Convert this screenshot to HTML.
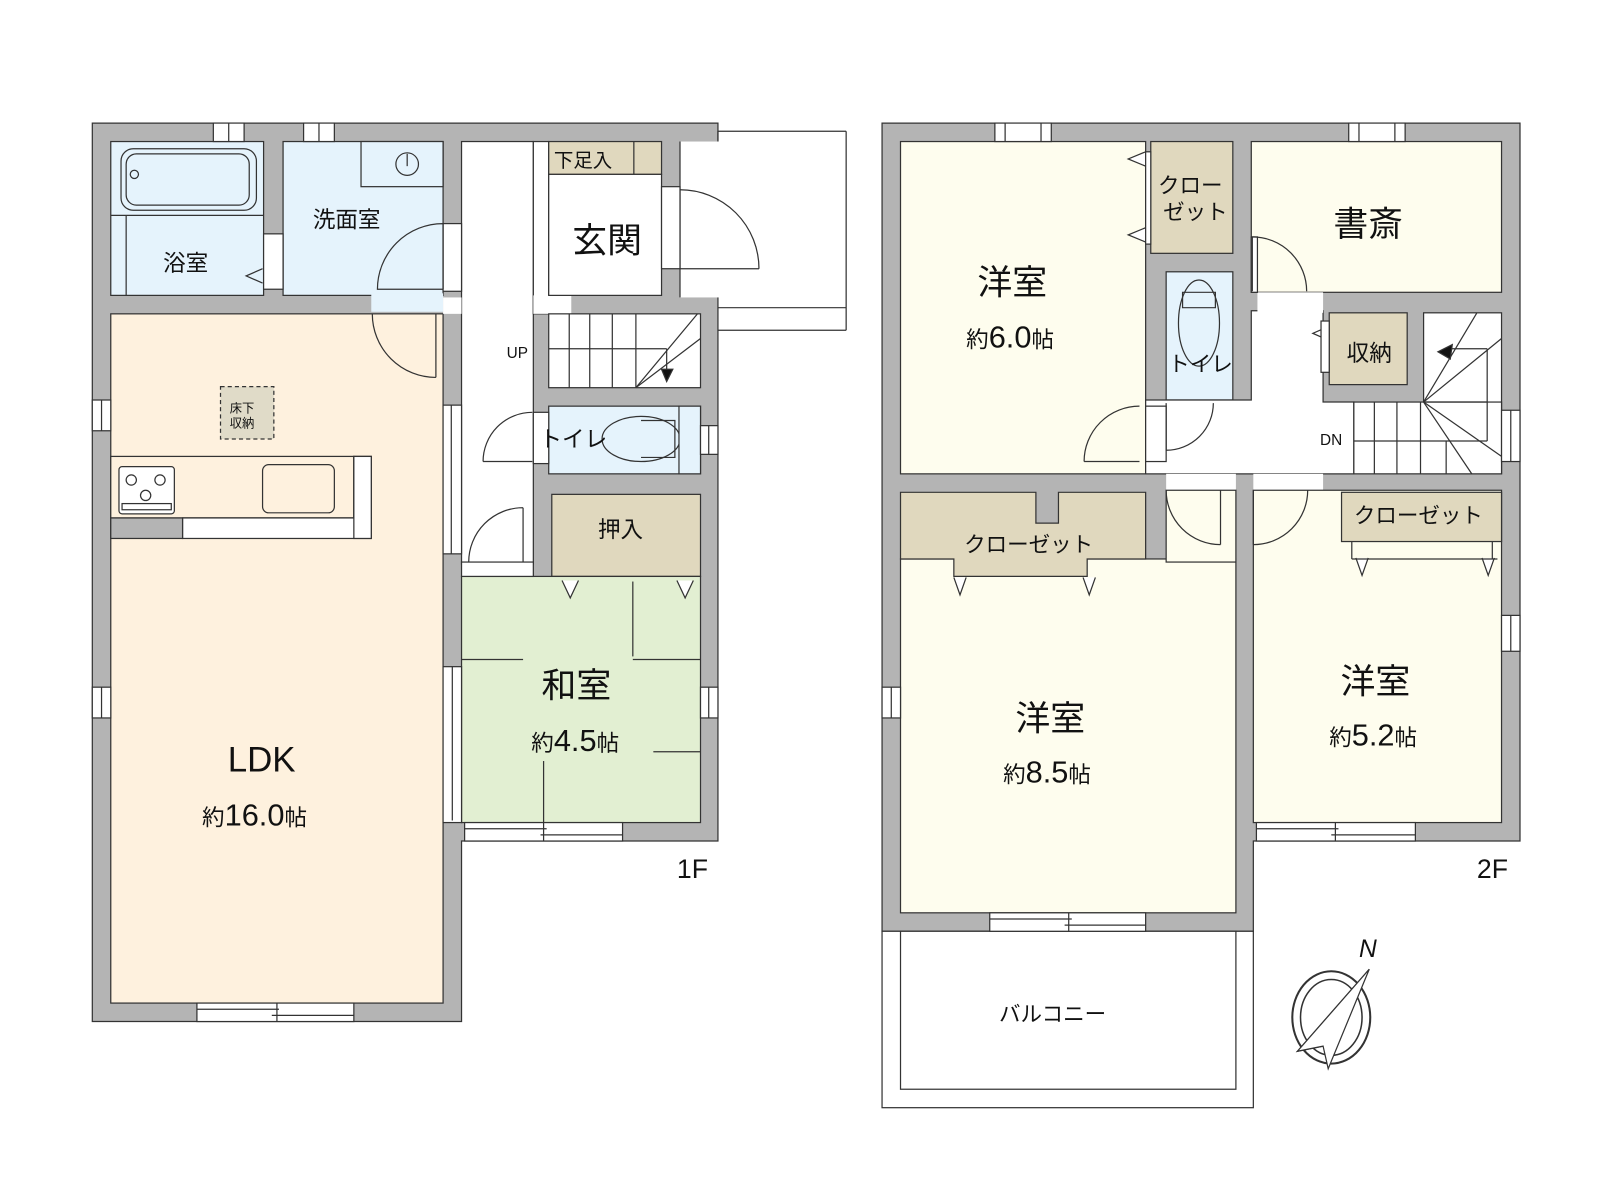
<!DOCTYPE html>
<html><head><meta charset="utf-8"><style>
html,body{margin:0;padding:0;background:#fff;}
svg{display:block}
text{font-family:"Liberation Sans","Noto Sans CJK JP",sans-serif;fill:#111}
</style></head><body>
<svg width="1600" height="1200" viewBox="0 0 1560 1170" xmlns="http://www.w3.org/2000/svg">
<g stroke="#333" stroke-width="1.2">
<!-- ===== 1F walls ===== -->
<path d="M90 120 H700 V820 H450 V996 H90 Z" fill="#b4b4b4"/>
<!-- porch -->
<rect x="663" y="138" width="40" height="152" fill="#fff" stroke="none"/>
<line x1="663" y1="138" x2="663" y2="290" />
<line x1="700" y1="128" x2="825" y2="128" fill="none"/>
<line x1="825" y1="128" x2="825" y2="322"/>
<line x1="700" y1="322" x2="825" y2="322"/>
<line x1="700" y1="300" x2="825" y2="300"/>
<line x1="700" y1="128" x2="700" y2="137"/>
<!-- rooms -->
<rect x="108" y="138" width="149" height="150" fill="#e5f3fc"/>
<rect x="276" y="138" width="156" height="150" fill="#e5f3fc"/>
<rect x="362" y="286" width="70" height="18" fill="#e5f3fc" stroke="none"/>
<rect x="352" y="138" width="80" height="44" fill="#e5f3fc"/>
<rect x="108" y="306" width="324" height="672" fill="#fef1de"/>
<rect x="450" y="138" width="70" height="412" fill="#fff"/>
<rect x="520" y="138" width="15" height="168" fill="#fff"/>
<rect x="520" y="288" width="37" height="18" fill="#fff" stroke="none"/>
<rect x="535" y="138" width="110" height="32" fill="#e0d8be"/>
<line x1="618" y1="138" x2="618" y2="170"/>
<rect x="535" y="170" width="110" height="118" fill="#fff"/>
<rect x="535" y="306" width="148" height="72" fill="#fff"/>
<rect x="535" y="396" width="148" height="66" fill="#e5f3fc"/>
<rect x="538" y="482" width="145" height="80" fill="#e0d8be"/>
<rect x="450" y="562" width="233" height="240" fill="#e2efd2"/>
<!-- bath details -->
<rect x="118" y="145" width="132" height="60" rx="12" fill="none"/>
<rect x="123" y="150" width="120" height="50" rx="10" fill="none"/>
<circle cx="131" cy="170" r="4" fill="none"/>
<line x1="108" y1="210" x2="257" y2="210"/>
<line x1="123" y1="210" x2="123" y2="288"/>
<path d="M256 262 L240 269 L256 276" fill="none"/>
<circle cx="397" cy="160" r="11" fill="none"/>
<line x1="397" y1="150" x2="397" y2="162"/>
<!-- kitchen -->
<rect x="108" y="445" width="237" height="60" fill="#fef1de"/>
<path d="M178 505 H362 V445 H345 V505" fill="#fff"/>
<rect x="178" y="505" width="184" height="20" fill="#fff"/>
<rect x="345" y="445" width="17" height="80" fill="#fff"/>
<rect x="108" y="505" width="70" height="20" fill="#b4b4b4"/>
<rect x="116" y="455" width="54" height="46" rx="3" fill="#fff"/>
<circle cx="128" cy="468" r="5" fill="none"/><circle cx="156" cy="468" r="5" fill="none"/><circle cx="142" cy="483" r="5" fill="none"/>
<rect x="119" y="491" width="48" height="6" fill="none"/>
<rect x="256" y="453" width="70" height="47" rx="6" fill="none"/>
<rect x="215" y="377" width="52" height="51" fill="#e0dbc8" stroke-dasharray="4 3"/>
<!-- stairs 1F -->
<g fill="none">
<line x1="555" y1="306" x2="555" y2="378"/><line x1="575" y1="306" x2="575" y2="378"/>
<line x1="597" y1="306" x2="597" y2="378"/><line x1="620" y1="306" x2="620" y2="378"/>
<line x1="535" y1="340" x2="650" y2="340"/><line x1="650" y1="340" x2="650" y2="370"/>
<line x1="620" y1="378" x2="680" y2="306"/><line x1="620" y1="378" x2="683" y2="330"/>
</g>
<path d="M645 360 L650 372 L656 360 Z" fill="#111"/>
<!-- toilet 1F -->
<ellipse cx="625" cy="428" rx="38" ry="22" fill="none"/>
<path d="M625 410 H658 V446 H625" fill="none"/>
<rect x="662" y="396" width="21" height="66" fill="#e5f3fc"/>
<!-- tatami -->
<g fill="none">
<line x1="617" y1="567" x2="617" y2="640"/>
<line x1="450" y1="643" x2="510" y2="643"/><line x1="617" y1="643" x2="683" y2="643"/>
<line x1="637" y1="733" x2="683" y2="733"/>
<line x1="530" y1="742" x2="530" y2="802"/>
</g>
<path d="M548 566 L556 583 L564 566" fill="#fff"/>
<path d="M660 566 L668 583 L676 566" fill="#fff"/>
<!-- 1F windows -->
<g fill="#fff">
<rect x="208" y="120" width="30" height="18"/><rect x="296" y="120" width="30" height="18"/>
<rect x="90" y="390" width="18" height="30"/><rect x="90" y="670" width="18" height="30"/>
<rect x="192" y="978" width="153" height="18"/><rect x="453" y="802" width="154" height="18"/>
<rect x="683" y="670" width="17" height="30"/><rect x="683" y="415" width="17" height="28"/>
<rect x="432" y="395" width="18" height="145"/><rect x="432" y="650" width="18" height="152"/>
<rect x="257" y="228" width="19" height="54"/><rect x="432" y="218" width="18" height="66"/>
<rect x="432" y="290" width="18" height="16" stroke="none"/>
<rect x="520" y="402" width="15" height="50"/>
<rect x="645" y="182" width="18" height="80"/>
<rect x="450" y="548" width="70" height="14"/>
</g>
<g fill="none">
<line x1="192" y1="984" x2="272" y2="984"/><line x1="265" y1="990" x2="345" y2="990"/><line x1="270" y1="978" x2="270" y2="996"/>
<line x1="453" y1="808" x2="533" y2="808"/><line x1="527" y1="814" x2="607" y2="814"/><line x1="530" y1="802" x2="530" y2="820"/>
<line x1="440" y1="395" x2="440" y2="540"/><line x1="441" y1="650" x2="441" y2="800"/>
<line x1="99" y1="390" x2="99" y2="420"/><line x1="99" y1="670" x2="99" y2="700"/>
<line x1="691" y1="670" x2="691" y2="700"/><line x1="691" y1="415" x2="691" y2="443"/>
<line x1="223" y1="120" x2="223" y2="138"/><line x1="311" y1="120" x2="311" y2="138"/>
</g>
<!-- 1F doors -->
<g fill="none">
<path d="M432 218 V282 H432 M432 218 A64 64 0 0 0 368 282 H432"/>
<path d="M425 306 V368 M425 368 A62 62 0 0 1 363 306"/>
<path d="M471 450 H519 M471 450 A48 48 0 0 1 519 402"/>
<path d="M510 495 V548 M457 548 A53 53 0 0 1 510 495"/>
<path d="M663 262 H740 M740 262 A77 77 0 0 0 663 185"/>
</g>

<!-- ===== 2F walls ===== -->
<path d="M860 120 H1482 V820 H1222 V908 H860 Z" fill="#b4b4b4"/>
<rect x="860" y="908" width="362" height="172" fill="#fff"/>
<rect x="878" y="908" width="327" height="154" fill="#fff"/>
<rect x="878" y="138" width="239" height="324" fill="#fefdee"/>
<rect x="1122" y="138" width="80" height="109" fill="#e0d8be"/>
<rect x="1220" y="138" width="244" height="147" fill="#fefdee"/>
<rect x="1137" y="265" width="65" height="125" fill="#e5f3fc"/>
<path d="M1117 390 H1220 V303 H1290 V392 H1320 V462 H1117 Z" fill="#fff"/>
<rect x="1226" y="285" width="64" height="20" fill="#fff" stroke="none"/>
<rect x="1296" y="305" width="76" height="70" fill="#e0d8be"/>
<rect x="1388" y="305" width="76" height="157" fill="#fff"/>
<rect x="1320" y="392" width="144" height="70" fill="#fff"/>
<rect x="1137" y="462" width="68" height="16" fill="#fff" stroke="none"/>
<rect x="1222" y="462" width="68" height="16" fill="#fff" stroke="none"/>
<rect x="878" y="545" width="327" height="345" fill="#fefdee"/>
<rect x="1137" y="478" width="68" height="70" fill="#fefdee"/>
<rect x="1222" y="478" width="242" height="324" fill="#fefdee"/>
<path d="M878 480 H1010 V510 H1032 V480 H1117 V545 H1060 V562 H930 V545 H878 Z" fill="#e0d8be"/>
<rect x="1308" y="480" width="156" height="48" fill="#e0d8be"/>
<!-- stairs 2F -->
<g fill="none">
<line x1="1340" y1="392" x2="1340" y2="462"/><line x1="1362" y1="392" x2="1362" y2="462"/>
<line x1="1385" y1="392" x2="1385" y2="462"/><line x1="1410" y1="430" x2="1410" y2="462"/>
<line x1="1320" y1="430" x2="1450" y2="430"/><line x1="1388" y1="392" x2="1450" y2="392"/>
<line x1="1450" y1="340" x2="1450" y2="430"/><line x1="1410" y1="340" x2="1450" y2="340"/>
<line x1="1388" y1="392" x2="1464" y2="330"/><line x1="1388" y1="392" x2="1464" y2="310" stroke-width="0"/>
<line x1="1388" y1="392" x2="1440" y2="305"/><line x1="1388" y1="392" x2="1464" y2="445"/>
<line x1="1388" y1="392" x2="1435" y2="462"/>
</g>
<path d="M1402 343 L1416 336 L1414 350 Z" fill="#111"/>
<!-- toilet 2F -->
<ellipse cx="1169" cy="315" rx="20" ry="42" fill="none"/>
<path d="M1153 285 V300 H1185 V285 Z" fill="none"/>
<!-- closet triangles -->
<g fill="#fff">
<path d="M1117 148 L1100 155 L1117 162"/><path d="M1117 222 L1100 229 L1117 236"/>
<path d="M1296 318 L1280 325 L1296 332"/>
<path d="M930 563 L936 580 L942 563"/><path d="M1056 563 L1062 580 L1068 563"/>
<path d="M1322 544 L1328 561 L1334 544"/><path d="M1445 544 L1451 561 L1457 544"/>
</g>
<line x1="1318" y1="528" x2="1318" y2="545"/><line x1="1455" y1="528" x2="1455" y2="545"/>
<line x1="1318" y1="545" x2="1460" y2="545"/>
<!-- 2F windows -->
<g fill="#fff">
<rect x="970" y="120" width="55" height="18"/><rect x="1315" y="120" width="55" height="18"/>
<rect x="860" y="670" width="18" height="30"/>
<rect x="1464" y="400" width="18" height="50"/><rect x="1464" y="600" width="18" height="35"/>
<rect x="965" y="890" width="152" height="18"/><rect x="1225" y="802" width="155" height="18"/>
<rect x="1117" y="148" width="5" height="90"/>
<rect x="1117" y="396" width="20" height="54"/><rect x="1220" y="231" width="6" height="54"/>
<rect x="1288" y="313" width="8" height="50"/>
</g>
<g fill="none">
<line x1="965" y1="896" x2="1045" y2="896"/><line x1="1038" y1="902" x2="1117" y2="902"/><line x1="1042" y1="890" x2="1042" y2="908"/>
<line x1="1225" y1="808" x2="1305" y2="808"/><line x1="1298" y1="814" x2="1380" y2="814"/><line x1="1302" y1="802" x2="1302" y2="820"/>
<line x1="980" y1="120" x2="980" y2="138"/><line x1="1015" y1="120" x2="1015" y2="138"/>
<line x1="1325" y1="120" x2="1325" y2="138"/><line x1="1360" y1="120" x2="1360" y2="138"/>
<line x1="869" y1="670" x2="869" y2="700"/><line x1="1473" y1="400" x2="1473" y2="450"/><line x1="1473" y1="600" x2="1473" y2="635"/>
</g>
<!-- 2F doors -->
<g fill="none">
<path d="M1057 450 H1111 M1057 450 A54 54 0 0 1 1111 396"/>
<path d="M1137 393 V439 M1137 439 A46 46 0 0 0 1183 393"/>
<path d="M1221 231 V284 M1221 231 A53 53 0 0 1 1274 284"/>
<path d="M1190 478 V531 M1190 531 A53 53 0 0 1 1137 478"/>
<path d="M1222 478 V531 M1222 531 A53 53 0 0 0 1275 478"/>
</g>
<!-- compass -->
<ellipse cx="1298" cy="992" rx="38" ry="45" fill="none" stroke-width="2"/>
<ellipse cx="1298" cy="992" rx="30" ry="37" fill="none" stroke-width="1.5"/>
<path d="M1335 945 L1265 1025 L1290 1020 Z" fill="#111"/>
<path d="M1335 945 L1295 1042 L1290 1020 L1265 1025 Z" fill="#fff"/>
</g>

<!-- ===== labels ===== -->
<g font-size="22">
<text x="159" y="264">浴室</text>
<text x="305" y="222">洗面室</text>
<text x="540" y="163" font-size="19">下足入</text>
<text x="583" y="524">押入</text>
<text x="526" y="436" font-size="22">トイレ</text>
<text x="1129" y="188" font-size="21">クロー</text>
<text x="1134" y="214" font-size="21">ゼット</text>
<text x="1313" y="352">収納</text>
<text x="1139" y="362" font-size="21">トイレ</text>
<text x="940" y="538" font-size="21">クローゼット</text>
<text x="1320" y="510" font-size="21">クローゼット</text>
<text x="974" y="996" font-size="21">バルコニー</text>
</g>
<text x="224" y="402" font-size="12">床下</text>
<text x="224" y="417" font-size="12">収納</text>
<text x="494" y="349" font-size="15">UP</text>
<text x="1287" y="434" font-size="15">DN</text>
<g font-size="34">
<text x="558" y="246">玄関</text>
<text x="528" y="680">和室</text>
<text x="222" y="752">LDK</text>
<text x="953" y="287">洋室</text>
<text x="1300" y="230">書斎</text>
<text x="990" y="712">洋室</text>
<text x="1307" y="676">洋室</text>
</g>
<g font-size="30">
<text x="518" y="732"><tspan font-size="22">約</tspan>4.5<tspan font-size="22">帖</tspan></text>
<text x="197" y="805"><tspan font-size="22">約</tspan>16.0<tspan font-size="22">帖</tspan></text>
<text x="942" y="339"><tspan font-size="22">約</tspan>6.0<tspan font-size="22">帖</tspan></text>
<text x="978" y="763"><tspan font-size="22">約</tspan>8.5<tspan font-size="22">帖</tspan></text>
<text x="1296" y="727"><tspan font-size="22">約</tspan>5.2<tspan font-size="22">帖</tspan></text>
</g>
<text x="660" y="856" font-size="26">1F</text>
<text x="1440" y="856" font-size="26">2F</text>
<text x="1325" y="933" font-size="24" font-style="italic" font-family="Liberation Serif">N</text>
</svg>
</body></html>
